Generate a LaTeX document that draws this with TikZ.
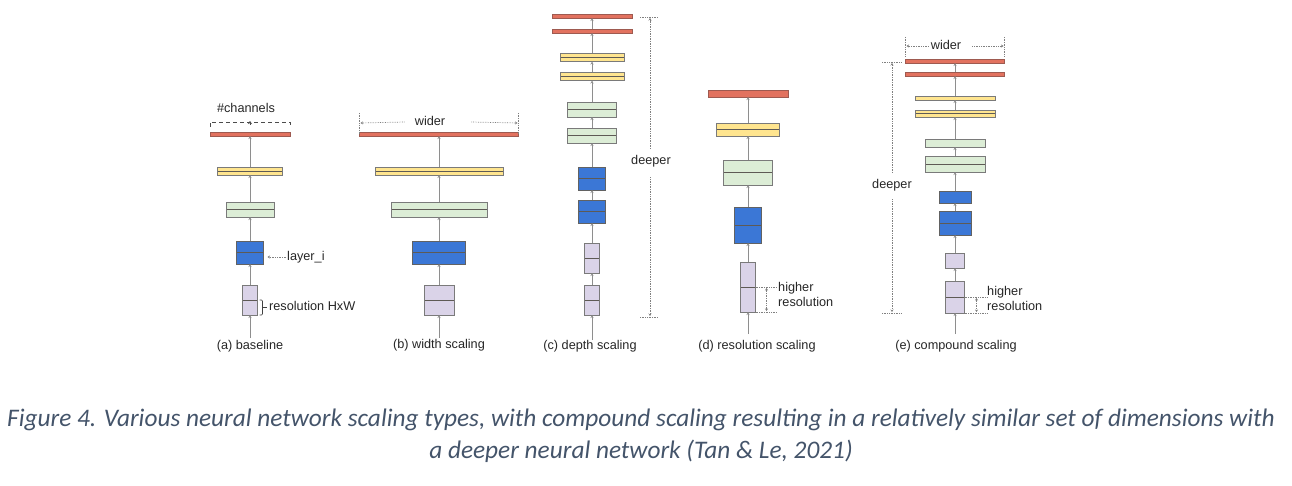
\documentclass[tikz,border=0pt]{standalone}
\usepackage{fontspec}
\setmainfont{Liberation Sans}
\newfontfamily\capfont{Carlito}
\usetikzlibrary{calc,arrows.meta}

\definecolor{redfill}{HTML}{E2725F}
\definecolor{rededge}{HTML}{9E5A50}
\definecolor{yellowfill}{HTML}{FFE58F}
\definecolor{greenfill}{HTML}{DCEDD6}
\definecolor{bluefill}{HTML}{3B77D6}
\definecolor{lilacfill}{HTML}{DAD3E8}
\definecolor{edge}{HTML}{7A7A7A}
\definecolor{midedge}{HTML}{5E5A55}
\definecolor{capcol}{HTML}{44546A}

\tikzset{
  layer/.style={draw=edge, line width=0.8pt, inner sep=0pt, outer sep=0pt},
  split/.style={path picture={\draw[midedge,line width=0.8pt] (path picture bounding box.west) -- (path picture bounding box.east);}},
  redlayer/.style={layer, fill=redfill, draw=rededge},
  yellowlayer/.style={layer, fill=yellowfill},
  greenlayer/.style={layer, fill=greenfill},
  bluelayer/.style={layer, fill=bluefill, draw=edge!80!black},
  lilaclayer/.style={layer, fill=lilacfill},
  flow/.style={draw=edge!85, line width=1pt, -{Stealth[length=3pt,width=3pt]}},
  guide/.style={draw=gray, line width=0.7pt, densely dotted},
  guidetip/.style={guide, -{Stealth[length=2.5pt,width=3pt]}},
  lbl/.style={font=\fontsize{12.7}{15}\selectfont, text=black!85, inner sep=1pt},
}

\begin{document}
\begin{tikzpicture}[x=1pt,y=-1pt]
\useasboundingbox (0,0) rectangle (1292,486);

% (a) baseline
\node[lilaclayer,split, minimum width=15pt, minimum height=30pt] (base1) at (250,300) {};
\node[bluelayer,split, minimum width=27pt, minimum height=23pt] (base2) at (250,252.5) {};
\node[greenlayer,split, minimum width=48pt, minimum height=15pt] (base3) at (250,209.5) {};
\node[yellowlayer,split, minimum width=65pt, minimum height=8pt] (base4) at (250,171) {};
\node[redlayer, minimum width=80pt, minimum height=4pt] (base5) at (250,134) {};
\coordinate (basein) at (250,338);
\draw[flow] (basein) -- (base1.south);
\draw[flow] (base1.north) -- (base2.south);
\draw[flow] (base2.north) -- (base3.south);
\draw[flow] (base3.north) -- (base4.south);
\draw[flow] (base4.north) -- (base5.south);

\node[lbl] (chantxt) at (246,108) {\#channels};
\draw[draw=black!70, line width=0.8pt, dash pattern=on 4pt off 3pt] ($(base5.north west)+(0,-5)$) -- ($(base5.north west)+(0,-10)$) -- ($(base5.north east)+(0,-10)$) -- ($(base5.north east)+(0,-5)$);
\draw[draw=black!70, line width=0.6pt, -{Stealth[length=3pt,width=4pt]}] ($(base5.north)+(0,-7)$) -- ($(base5.north)+(0,-11)$);

\node[lbl, anchor=west] (layertxt) at (286,257) {layer\_i};
\draw[guidetip] (layertxt.west) -- ($(layertxt.west -| base2.east)+(4,0)$);

\draw[draw=black!75, line width=0.7pt, rounded corners=1pt] ($(base1.east)+(2,0)$) -- ($(base1.east)+(5,0)$) -- ($(base1.south east)+(5,0)$) -- ($(base1.south east)+(2,0)$);
\draw[draw=black!75, line width=0.7pt] ($(base1.east)+(5,7)$) -- ($(base1.east)+(9,7)$);
\node[lbl, anchor=west] (restxt) at (268,306) {resolution HxW};

\node[lbl] (basecap) at (250,346) {(a) baseline};

% (b) width scaling
\node[lilaclayer,split, minimum width=30pt, minimum height=30pt] (wide1) at (439,300) {};
\node[bluelayer,split, minimum width=53pt, minimum height=23pt] (wide2) at (439,252.5) {};
\node[greenlayer,split, minimum width=96pt, minimum height=15pt] (wide3) at (439,209.5) {};
\node[yellowlayer,split, minimum width=128pt, minimum height=8pt] (wide4) at (439,171) {};
\node[redlayer, minimum width=159pt, minimum height=4pt] (wide5) at (439,134) {};
\coordinate (widein) at (439,338);
\draw[flow] (widein) -- (wide1.south);
\draw[flow] (wide1.north) -- (wide2.south);
\draw[flow] (wide2.north) -- (wide3.south);
\draw[flow] (wide3.north) -- (wide4.south);
\draw[flow] (wide4.north) -- (wide5.south);

\node[lbl] (widetxt) at (430,121) {wider};
\draw[guide] ($(wide5.north west)+(0,-19)$) -- ($(wide5.north west)+(0,2)$);
\draw[guide] ($(wide5.north east)+(0,-19)$) -- ($(wide5.north east)+(0,2)$);
\draw[guidetip] ($(widetxt.west)+(-9,1)$) -- ($(wide5.north west)+(1,-9)$);
\draw[guidetip] ($(widetxt.east)+(25,1)$) -- ($(wide5.north east)+(-1,-9)$);

\node[lbl] (widecap) at (439,345) {(b) width scaling};

% (c) depth scaling
\node[lilaclayer,split, minimum width=15pt, minimum height=30pt] (deep1) at (592,300) {};
\node[lilaclayer,split, minimum width=15pt, minimum height=30pt] (deep2) at (592,258) {};
\node[bluelayer,split, minimum width=27pt, minimum height=23pt] (deep3) at (592,211.5) {};
\node[bluelayer,split, minimum width=27pt, minimum height=23pt] (deep4) at (592,178.5) {};
\node[greenlayer,split, minimum width=49pt, minimum height=15pt] (deep5) at (592,135.5) {};
\node[greenlayer,split, minimum width=49pt, minimum height=15pt] (deep6) at (592,109.5) {};
\node[yellowlayer,split, minimum width=64pt, minimum height=8pt] (deep7) at (592,76.5) {};
\node[yellowlayer,split, minimum width=64pt, minimum height=8pt] (deep8) at (592,57.5) {};
\node[redlayer, minimum width=80pt, minimum height=4pt] (deep9) at (592,31) {};
\node[redlayer, minimum width=80pt, minimum height=4pt] (deep10) at (592,16) {};
\coordinate (deepin) at (592,340);
\draw[flow] (deepin) -- (deep1.south);
\draw[flow] (deep1.north) -- (deep2.south);
\draw[flow] (deep2.north) -- (deep3.south);
\draw[flow] (deep3.north) -- (deep4.south);
\draw[flow] (deep4.north) -- (deep5.south);
\draw[flow] (deep5.north) -- (deep6.south);
\draw[flow] (deep6.north) -- (deep7.south);
\draw[flow] (deep7.north) -- (deep8.south);
\draw[flow] (deep8.north) -- (deep9.south);
\draw[flow] (deep9.north) -- (deep10.south);

\node[lbl] (deeptxt) at (651,161) {deeper};
\draw[guide] (640,17) -- (658,17);
\draw[guide] (640,317) -- (658,317);
\draw[guidetip] ($(deeptxt.north)+(-1,-5)$) -- (650,18);
\draw[guidetip] ($(deeptxt.south)+(-1,9)$) -- (650,316);

\node[lbl] (deepcap) at (590,346) {(c) depth scaling};

% (d) resolution scaling
\node[lilaclayer,split, minimum width=15pt, minimum height=50pt] (res1) at (748,287) {};
\node[bluelayer,split, minimum width=27pt, minimum height=36pt] (res2) at (748,225) {};
\node[greenlayer,split, minimum width=49pt, minimum height=25pt] (res3) at (748,172.5) {};
\node[yellowlayer,split, minimum width=63pt, minimum height=13pt] (res4) at (748,129.5) {};
\node[redlayer, minimum width=80pt, minimum height=7pt] (res5) at (748,93.5) {};
\coordinate (resin) at (748,334);
\draw[flow] (resin) -- (res1.south);
\draw[flow] (res1.north) -- (res2.south);
\draw[flow] (res2.north) -- (res3.south);
\draw[flow] (res3.north) -- (res4.south);
\draw[flow] (res4.north) -- (res5.south);

\draw[guide] (res1.east) -- ($(res1.east)+(22,0)$);
\draw[guide] (res1.south east) -- ($(res1.south east)+(22,0)$);
\draw[guide, {Stealth[length=2.5pt,width=3pt]}-{Stealth[length=2.5pt,width=3pt]}] ($(res1.east)+(11,1)$) -- ($(res1.south east)+(11,-1)$);
\node[lbl, anchor=north west, align=left] (restxt2) at (777,281) {higher\\resolution};

\node[lbl] (rescap) at (757,346) {(d) resolution scaling};

% (e) compound scaling
\node[lilaclayer,split, minimum width=19pt, minimum height=32pt] (comp1) at (955,297) {};
\node[lilaclayer, minimum width=19pt, minimum height=15pt] (comp2) at (955,260.5) {};
\node[bluelayer,split, minimum width=32pt, minimum height=24pt] (comp3) at (955,223) {};
\node[bluelayer, minimum width=32pt, minimum height=12pt] (comp4) at (955,197) {};
\node[greenlayer,split, minimum width=60pt, minimum height=16pt] (comp5) at (955,164) {};
\node[greenlayer, minimum width=60pt, minimum height=8pt] (comp6) at (955,143) {};
\node[yellowlayer,split, minimum width=80pt, minimum height=7pt] (comp7) at (955,113.5) {};
\node[yellowlayer, minimum width=80pt, minimum height=4pt] (comp8) at (955,98) {};
\node[redlayer, minimum width=99pt, minimum height=4pt] (comp9) at (955,74) {};
\node[redlayer, minimum width=99pt, minimum height=4pt] (comp10) at (955,61) {};
\coordinate (compin) at (955,334);
\draw[flow] (compin) -- (comp1.south);
\draw[flow] (comp1.north) -- (comp2.south);
\draw[flow] (comp2.north) -- (comp3.south);
\draw[flow] (comp3.north) -- (comp4.south);
\draw[flow] (comp4.north) -- (comp5.south);
\draw[flow] (comp5.north) -- (comp6.south);
\draw[flow] (comp6.north) -- (comp7.south);
\draw[flow] (comp7.north) -- (comp8.south);
\draw[flow] (comp8.north) -- (comp9.south);
\draw[flow] (comp9.north) -- (comp10.south);

\node[lbl] (comptxt) at (946,45) {wider};
\draw[guide] ($(comp10.north west)+(0,-22)$) -- ($(comp10.north west)+(0,-2)$);
\draw[guide] ($(comp10.north east)+(0,-22)$) -- ($(comp10.north east)+(0,-2)$);
\draw[guidetip] ($(comptxt.west)+(-1,1)$) -- ($(comp10.north west)+(1,-13)$);
\draw[guidetip] ($(comptxt.east)+(10,1)$) -- ($(comp10.north east)+(-1,-13)$);

\node[lbl] (compdeep) at (892,185) {deeper};
\draw[guide] (882,62) -- (902,62);
\draw[guide] (882,313) -- (902,313);
\draw[guidetip] ($(compdeep.north)+(0,-5)$) -- (892,63);
\draw[guidetip] ($(compdeep.south)+(0,7)$) -- (892,312);

\draw[guide] (comp1.east) -- ($(comp1.east)+(23,0)$);
\draw[guide] (comp1.south east) -- ($(comp1.south east)+(23,0)$);
\draw[guide, {Stealth[length=2.5pt,width=3pt]}-{Stealth[length=2.5pt,width=3pt]}] ($(comp1.east)+(12,1)$) -- ($(comp1.south east)+(12,-1)$);
\node[lbl, anchor=north west, align=left] (comptxt2) at (986,285) {higher\\resolution};

\node[lbl] (compcap) at (956,346) {(e) compound scaling};

% caption
\node[font=\capfont\itshape\fontsize{25.3}{32}\selectfont, text=capcol, align=center] (caption) at (641,436) {Figure 4. Various neural network scaling types, with compound scaling resulting in a relatively similar set of dimensions with\\a deeper neural network (Tan \& Le, 2021)};

\end{tikzpicture}
\end{document}
